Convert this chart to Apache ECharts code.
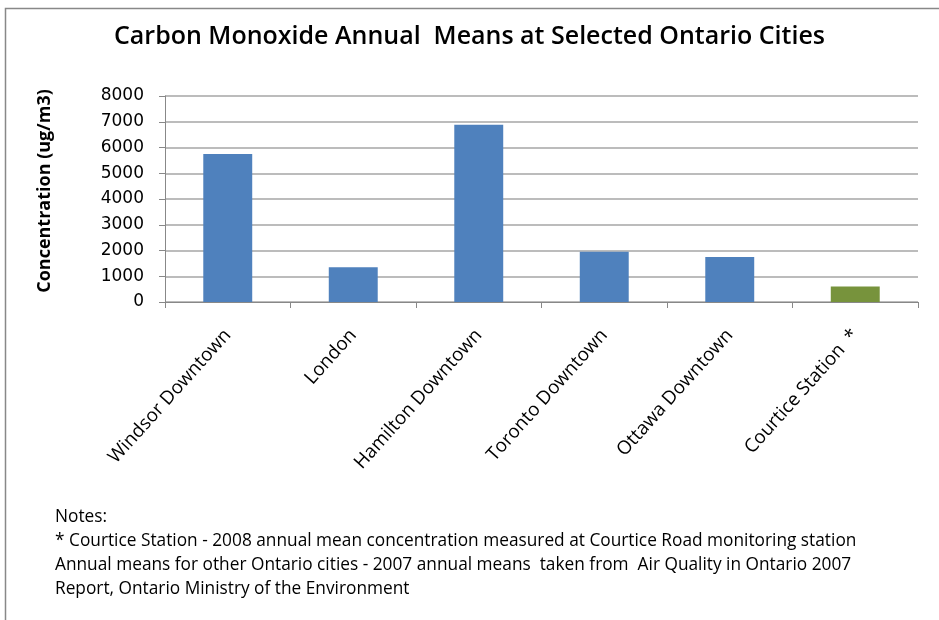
<!DOCTYPE html>
<html>
<head>
<meta charset="utf-8">
<script src="https://cdn.jsdelivr.net/npm/echarts@6/dist/echarts.min.js"></script>
<style>
  html, body { margin: 0; padding: 0; background: #fff; }
  #main { width: 939px; height: 620px; }
</style>
</head>
<body>
<div id="main"></div>
<script>
  // data
  var cities = ['Windsor Downtown', 'London', 'Hamilton Downtown', 'Toronto Downtown', 'Ottawa Downtown', 'Courtice Station  *']
  var coMeans = [5750, 1350, 6880, 1950, 1750, 600]
  var barColors = ['#4F81BD', '#4F81BD', '#4F81BD', '#4F81BD', '#4F81BD', '#77933C']
  var notes = [
    'Notes:',
    '* Courtice Station - 2008 annual mean concentration measured at Courtice Road monitoring station',
    'Annual means for other Ontario cities - 2007 annual means  taken from  Air Quality in Ontario 2007',
    'Report, Ontario Ministry of the Environment'
  ]

  var chart = echarts.init(document.getElementById('main'))
  var sans = '"Open Sans", sans-serif'

  var option = {
    backgroundColor: '#fff',
    animation: false,
    title: {
      text: 'Carbon Monoxide Annual  Means at Selected Ontario Cities',
      left: 'center',
      top: 19,
      textStyle: {
        fontFamily: sans,
        fontWeight: 600,
        fontSize: 25,
        color: '#000'
      }
    },
    grid: {
      left: 165,
      right: 21,
      top: 96,
      height: 206
    },
    xAxis: {
      type: 'category',
      data: cities,
      axisLine: { lineStyle: { color: '#888', width: 1 } },
      axisTick: { show: true, length: 6, lineStyle: { color: '#888' } },
      axisLabel: {
        rotate: 48,
        interval: 0,
        margin: 30,
        fontFamily: sans,
        fontSize: 18.8,
        color: '#000'
      }
    },
    yAxis: {
      type: 'value',
      min: 0,
      max: 8000,
      interval: 1000,
      axisLine: { show: true, lineStyle: { color: '#888' } },
      axisTick: { show: true, length: 6, lineStyle: { color: '#888' } },
      axisLabel: {
        margin: 21,
        formatter: function (v) { return String(v) },
        fontFamily: '"DejaVu Sans", sans-serif',
        fontSize: 17,
        color: '#000'
      },
      splitLine: { lineStyle: { color: '#A6A6A6', width: 1.5 } }
    },
    series: [{
      type: 'bar',
      barWidth: '39%',
      data: coMeans.map(function (v, i) {
        return { value: v, itemStyle: { color: barColors[i] } }
      })
    }],
    graphic: [
      {
        type: 'rect',
        shape: { x: 5.5, y: 8.5, width: 940, height: 620 },
        style: { fill: 'none', stroke: '#888', lineWidth: 1.5 },
        silent: true
      },
      {
        type: 'text',
        x: 45,
        y: 191,
        rotation: Math.PI / 2,
        style: {
          text: 'Concentration (ug/m3)',
          align: 'center',
          verticalAlign: 'middle',
          fontFamily: sans,
          fontWeight: 'bold',
          fontSize: 18,
          fill: '#000'
        }
      },
      {
        type: 'group',
        left: 55,
        top: 509,
        children: notes.map(function (t, i) {
          return {
            type: 'text',
            x: 0,
            y: i * 24,
            style: {
              text: t,
              fontFamily: sans,
              fontSize: 17.3,
              fill: '#000'
            }
          }
        })
      }
    ]
  }
  chart.setOption(option)
</script>
</body>
</html>
